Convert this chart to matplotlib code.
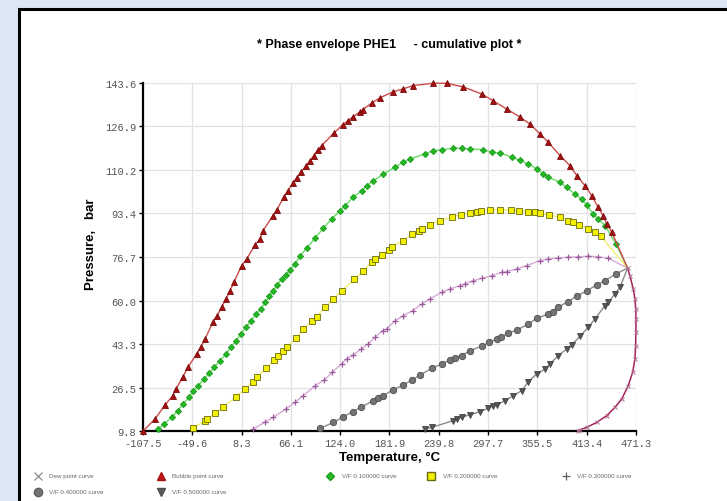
import numpy as np
import matplotlib
matplotlib.use("Agg")
import matplotlib.pyplot as plt
from matplotlib.lines import Line2D
from matplotlib.patches import Rectangle

# axis ranges and tick labels as printed on the chart
x_min, x_max = -107.5, 471.3
y_min, y_max = 9.8, 143.6
x_labels = ["-107.5", "-49.6", "8.3", "66.1", "124.0", "181.9",
            "239.8", "297.7", "355.5", "413.4", "471.3"]
y_labels = ["9.8", "26.5", "43.3", "60.0", "76.7", "93.4", "110.2", "126.9", "143.6"]

# critical point where all curves meet
t_crit, p_crit = 461.5, 72.4

# bubble point curve
bub_t = [-107.5, -93.4, -81.6, -72.6, -68.8, -60.5, -54.7, -44.5, -39.4, -34.7,
         -25.3, -20.6, -15.1, -10.1, -5.4, -0.7, 8.4, 14.2, 24.0, 29.9,
         33.4, 44.8, 49.5, 58.0, 62.7, 68.6, 72.9, 78.0, 83.9, 88.6,
         93.3, 97.6, 102.3, 116.7, 126.9, 133.2, 138.7, 147.3, 150.8, 161.0,
         170.8, 186.0, 197.7, 209.5, 233.0, 249.0, 268.2, 290.1, 303.4, 319.5,
         335.1, 346.8, 358.6, 368.0, 382.1, 393.8, 401.7, 411.5, 419.3, 426.7,
         432.6, 437.0, 442.8]
bub_p = [9.8, 14.4, 19.8, 23.4, 25.9, 30.7, 34.4, 39.4, 42.2, 45.2,
         51.7, 54.1, 57.5, 60.6, 63.7, 67.1, 73.4, 75.9, 81.3, 83.6,
         86.8, 92.5, 94.8, 99.8, 102.2, 105.2, 107.1, 109.4, 111.7, 113.7,
         115.7, 117.8, 119.5, 124.4, 127.5, 129.1, 130.5, 132.5, 133.4, 135.9,
         137.9, 140.2, 141.3, 142.6, 143.5, 143.5, 142.1, 139.4, 136.8, 133.6,
         130.5, 127.8, 124.0, 120.9, 115.7, 111.8, 108.0, 104.1, 100.3, 95.9,
         92.6, 89.4, 86.3]

# dew point curve
dew_t = [461.5, 464.2, 468.1, 470.1, 471.0, 471.3, 471.2, 470.9, 470.1, 467.4,
         462.2, 454.5, 446.6, 436.9, 425.1, 413.4, 405.6, 403.0]
dew_p = [72.4, 69.5, 64.4, 60.6, 56.7, 52.9, 47.8, 42.6, 37.5, 32.4,
         27.2, 22.1, 18.9, 15.7, 13.1, 11.2, 10.3, 9.8]

# V/F 0.1
vf1_t = [-89.5, -82.5, -73.8, -66.8, -60.2, -53.1, -48.4, -42.6, -35.9, -29.7,
         -23.8, -17.1, -10.1, -4.5, 1.7, 7.5, 13.4, 19.3, 25.2, 31.0,
         35.7, 40.8, 45.5, 50.2, 55.3, 60.4, 65.1, 71.0, 76.8, 84.7,
         94.4, 104.2, 114.0, 123.8, 129.6, 139.4, 149.3, 155.1, 162.9, 174.6,
         188.3, 198.1, 205.9, 223.5, 233.3, 243.2, 256.8, 266.6, 276.4, 292.1,
         301.9, 311.7, 325.4, 335.1, 344.9, 354.7, 362.5, 368.3, 382.1, 389.9,
         399.6, 407.5, 413.4, 421.2, 427.0, 434.9, 447.8]
vf1_p = [10.6, 12.5, 15.1, 17.6, 20.2, 23.0, 25.3, 27.2, 29.8, 32.0,
         34.3, 36.8, 39.4, 42.0, 44.5, 47.1, 49.7, 52.2, 54.8, 56.7,
         59.3, 61.6, 63.8, 66.0, 68.3, 69.8, 71.7, 74.0, 77.1, 80.1,
         83.9, 87.8, 91.3, 94.5, 96.4, 99.7, 102.2, 104.1, 106.0, 108.6,
         111.2, 113.1, 114.4, 116.3, 117.6, 117.9, 118.5, 118.5, 118.3, 117.9,
         117.0, 116.7, 115.1, 113.8, 112.5, 110.6, 108.6, 107.4, 105.4, 103.5,
         100.9, 99.0, 96.7, 93.2, 91.3, 88.8, 81.7]

# V/F 0.2
vf2_t = [-48.4, -34.7, -32.0, -23.0, -13.2, 1.7, 12.2, 22.0, 26.0, 36.9,
         46.6, 51.3, 57.2, 61.2, 71.8, 80.7, 90.6, 96.4, 106.2, 116.0,
         125.8, 140.7, 151.1, 161.0, 164.9, 172.8, 181.7, 184.5, 197.4, 208.0,
         216.9, 219.7, 229.4, 241.2, 254.9, 265.5, 276.4, 284.3, 289.0, 299.9,
         311.6, 324.5, 334.3, 344.9, 352.7, 358.6, 369.5, 382.1, 391.9, 397.8,
         404.8, 415.3, 423.2, 429.9]
vf2_p = [11.0, 13.8, 14.4, 16.6, 19.1, 23.0, 26.0, 28.8, 30.5, 33.9,
         37.1, 38.5, 40.4, 42.0, 45.4, 49.0, 52.2, 53.7, 57.4, 60.6,
         63.7, 68.2, 71.4, 74.7, 75.9, 77.6, 79.5, 80.4, 83.0, 85.5,
         86.8, 87.5, 89.1, 90.7, 92.0, 93.0, 93.7, 93.9, 94.3, 94.8,
         94.9, 94.8, 94.5, 94.1, 93.9, 93.5, 92.9, 92.0, 90.7, 90.1,
         89.1, 87.5, 86.2, 84.7]

# V/F 0.3
vf3_t = [22.0, 35.7, 45.5, 60.4, 70.9, 80.7, 94.4, 105.3, 114.7, 125.8,
         131.6, 139.4, 148.4, 157.0, 164.9, 173.9, 178.6, 188.4, 198.1, 209.1,
         219.7, 229.4, 243.2, 252.9, 264.7, 270.5, 280.3, 290.1, 301.9, 313.6,
         319.5, 331.2, 343.0, 358.6, 368.3, 380.1, 391.8, 403.6, 415.3, 427.1,
         438.8]
vf3_p = [10.6, 13.2, 15.1, 18.3, 20.8, 23.4, 27.2, 29.4, 32.4, 35.6,
         37.5, 39.0, 41.3, 43.3, 45.8, 48.4, 49.0, 52.2, 54.1, 56.1,
         58.6, 60.6, 63.1, 64.4, 65.7, 66.3, 67.6, 68.5, 69.5, 70.8,
         71.1, 72.1, 73.4, 75.3, 75.9, 76.3, 76.6, 76.8, 77.0, 76.8,
         76.2]

# V/F 0.4
vf4_t = [100.3, 115.9, 127.7, 138.7, 148.1, 162.9, 168.7, 174.6, 186.4, 198.1,
         208.0, 217.7, 231.4, 243.2, 252.9, 258.8, 266.6, 276.4, 290.1, 299.1,
         307.7, 312.4, 321.4, 331.2, 344.9, 354.6, 368.3, 374.2, 380.1, 391.0,
         401.6, 413.3, 425.0, 434.9, 447.8]
vf4_p = [10.8, 13.1, 15.3, 17.2, 18.9, 21.5, 22.5, 23.4, 25.7, 27.5,
         29.4, 31.3, 33.9, 35.6, 37.1, 37.9, 38.8, 40.7, 42.4, 43.9,
         45.2, 45.8, 47.4, 48.6, 50.9, 53.1, 54.8, 55.7, 57.4, 59.5,
         61.6, 63.7, 65.9, 67.6, 70.2]

# V/F 0.5
vf5_t = [223.6, 231.4, 256.8, 260.8, 266.6, 276.4, 288.1, 297.9, 303.7, 307.7,
         317.5, 327.2, 337.1, 344.9, 354.6, 364.4, 370.3, 380.1, 389.8, 395.7,
         405.5, 415.3, 423.1, 434.9, 438.7, 446.6, 452.5]
vf5_p = [10.6, 11.2, 13.8, 14.4, 15.1, 16.1, 17.2, 18.6, 19.5, 19.8,
         21.5, 23.4, 25.3, 28.8, 31.7, 33.6, 35.6, 38.8, 41.3, 42.9,
         46.2, 49.7, 52.9, 58.0, 59.3, 62.5, 65.1]

legend_names = ["Dew point curve", "Bubble point curve", "V/F 0.100000 curve",
                "V/F 0.200000 curve", "V/F 0.300000 curve", "V/F 0.400000 curve",
                "V/F 0.500000 curve"]

fig = plt.figure(figsize=(7.27, 5.02), dpi=100)
fig.patch.set_facecolor("#dde7f3")

# white panel with a black frame, kept behind the axes
fig.add_artist(Rectangle((0.026, -0.05), 1.1, 1.03, transform=fig.transFigure,
                         facecolor="white", edgecolor="black", linewidth=2.2,
                         zorder=-10))

ax = fig.add_axes([0.1967, 0.1394, 0.6781, 0.6933])
ax.set_facecolor("white")


def curve(t, p, line_col, mk, mk_face, mk_edge, ms, mew=0.6):
    # line runs on to the critical point, markers stop before it
    tt = list(t) + [t_crit]
    pp = list(p) + [p_crit]
    ax.plot(tt, pp, color=line_col, lw=1.0, marker=mk, ms=ms,
            markerfacecolor=mk_face, markeredgecolor=mk_edge, markeredgewidth=mew,
            markevery=list(range(len(t))), zorder=3, clip_on=False)


curve(vf5_t, vf5_p, "#8a8a8a", "v", "#555555", "#444444", 4.2)
curve(vf4_t, vf4_p, "#8c8c8c", "o", "#747474", "#4e4e4e", 4.6)
curve(vf3_t, vf3_p, "#d8a8d8", "+", "#9a5a9a", "#9a5a9a", 4.5, 0.9)
curve(vf2_t, vf2_p, "#f2f070", "s", "#f2f000", "#6a6a10", 4.6)
curve(vf1_t, vf1_p, "#66dd66", "D", "#22b822", "#1f9a1f", 3.2)
curve(bub_t, bub_p, "#cc4a4a", "^", "#a51010", "#7a0a0a", 4.4)
ax.plot(dew_t, dew_p, color="#a3245a", lw=1.1, marker="x", ms=3.2,
        markeredgecolor="#b07090", markeredgewidth=0.7, zorder=3, clip_on=False)

ax.set_xlim(x_min, x_max)
ax.set_ylim(y_min, y_max)
ax.set_xticks(np.linspace(x_min, x_max, len(x_labels)))
ax.set_xticklabels(x_labels)
ax.set_yticks(np.linspace(y_min, y_max, len(y_labels)))
ax.set_yticklabels(y_labels)
for lab in ax.get_xticklabels() + ax.get_yticklabels():
    lab.set_family("Liberation Mono")
    lab.set_fontsize(7.5)
    lab.set_color("#555555")
ax.tick_params(length=3, width=1, color="black", pad=2)
ax.grid(True, color="#e2e2e2", lw=0.9)
ax.set_axisbelow(True)
for s in ["top", "right"]:
    ax.spines[s].set_visible(False)
for s in ["left", "bottom"]:
    ax.spines[s].set_linewidth(1.6)

fig.text(0.536, 0.91, "* Phase envelope PHE1     - cumulative plot *",
         ha="center", va="center", fontsize=9, fontweight="bold",
         family="Liberation Sans")
fig.text(0.536, 0.088, "Temperature, °C", ha="center", va="center",
         fontsize=9.5, fontweight="bold", family="Liberation Sans")
fig.text(0.125, 0.514, "Pressure,   bar", ha="center", va="center", rotation=90,
         fontsize=9.5, fontweight="bold", family="Liberation Sans")

# legend below the plot, laid out by hand
leg_x = [0.052, 0.221, 0.454, 0.593, 0.778, 0.052, 0.221]
leg_y = [0.05, 0.05, 0.05, 0.05, 0.05, 0.018, 0.018]
leg_style = [
    dict(marker="x", ms=6, markeredgecolor="#808080", markerfacecolor="none", markeredgewidth=0.8),
    dict(marker="^", ms=6, markeredgecolor="#a51010", markerfacecolor="#c01818"),
    dict(marker="D", ms=4, markeredgecolor="#1f9a1f", markerfacecolor="#22c022"),
    dict(marker="s", ms=6, markeredgecolor="#6a6a10", markerfacecolor="#f2f000"),
    dict(marker="+", ms=6, markeredgecolor="#606060", markeredgewidth=0.9),
    dict(marker="o", ms=6, markeredgecolor="#606060", markerfacecolor="#747474"),
    dict(marker="v", ms=6, markeredgecolor="#505050", markerfacecolor="#5a5a5a"),
]
for name, lx, ly, st in zip(legend_names, leg_x, leg_y, leg_style):
    fig.add_artist(Line2D([lx], [ly], transform=fig.transFigure, linestyle="none", **st))
    fig.text(lx + 0.016, ly, name, ha="left", va="center", fontsize=4.5,
             color="#666666", family="Liberation Sans")

fig.savefig("out.png", dpi=100, facecolor=fig.get_facecolor())
